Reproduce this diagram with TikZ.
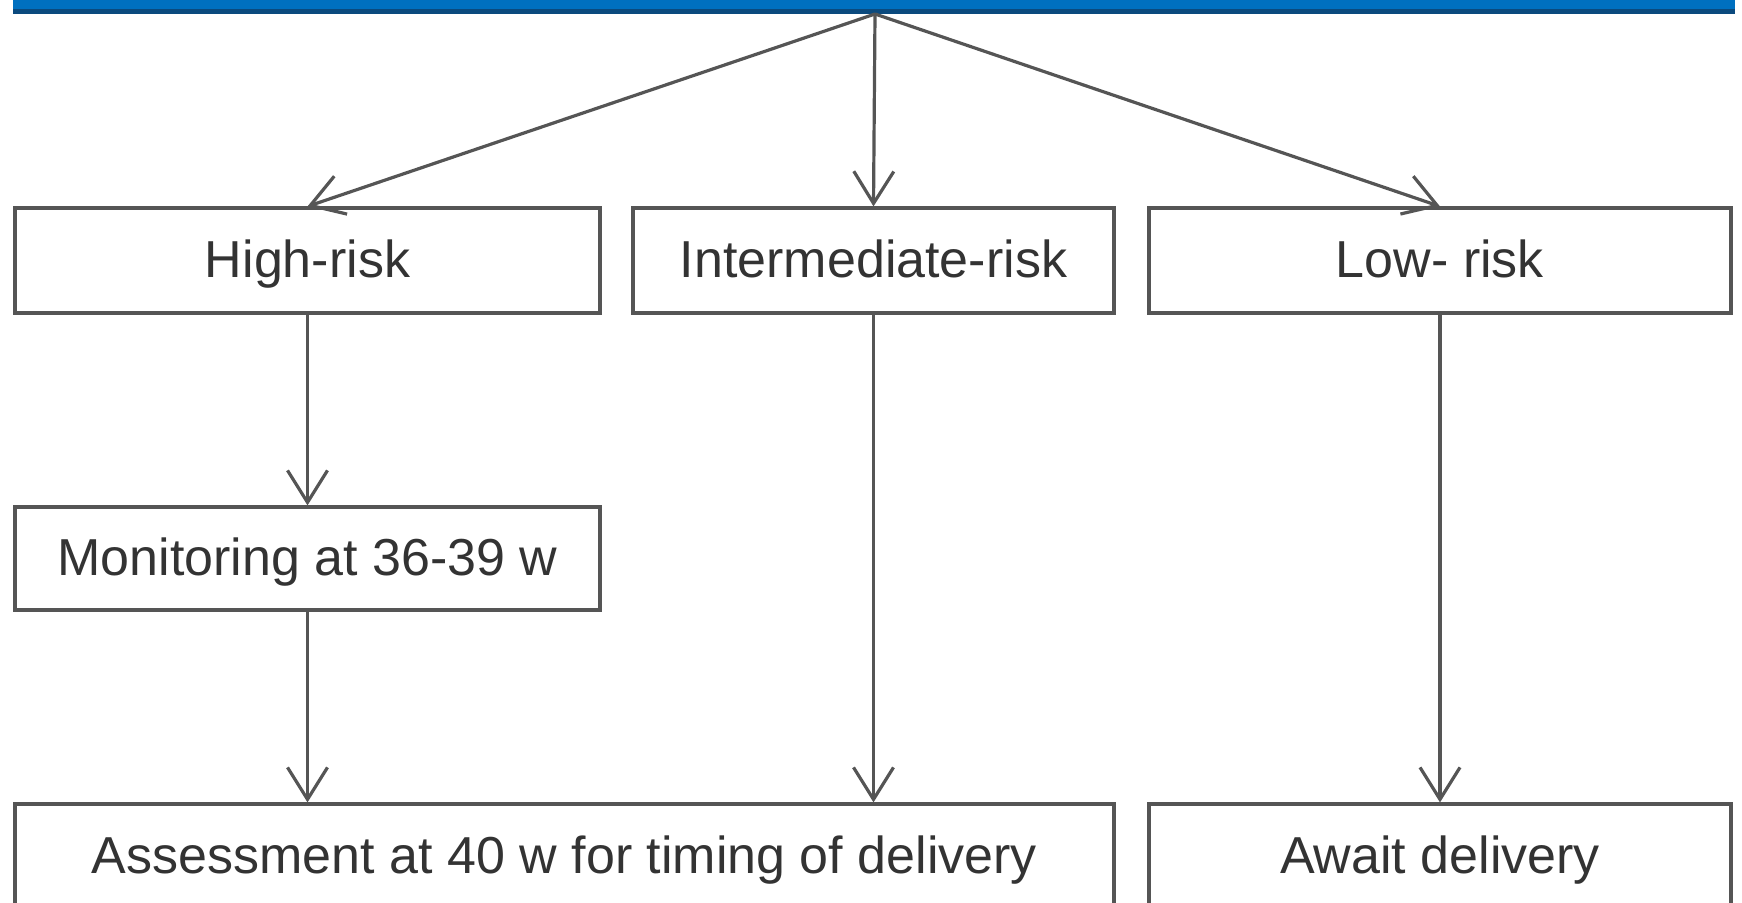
\documentclass[tikz,border=0pt]{standalone}
\usepackage{fontspec}
\setmainfont{Liberation Sans}
\usetikzlibrary{arrows.meta}
\definecolor{barblue}{HTML}{0070C0}
\definecolor{bardark}{HTML}{0B4A7E}
\definecolor{linegray}{HTML}{555555}
\definecolor{textgray}{HTML}{333333}
\tikzset{
  box/.style={draw=linegray, line width=1.6pt, fill=white, rectangle, inner sep=0pt,
    text=textgray, font=\fontsize{26}{30}\selectfont, minimum height=52.5pt,
    text height=19pt, text depth=2pt},
  conn/.style={draw=linegray, line width=1.6pt, -{Straight Barb[length=16pt,width=20pt,line width=1.6pt]}}
}
\begin{document}
\begin{tikzpicture}[x=0.5pt,y=-0.5pt]
\useasboundingbox (0,0) rectangle (1742,903);
\clip (0,0) rectangle (1742,903);
% top bar
\fill[barblue] (13,-20) rectangle (1735,14);
\fill[bardark] (13,9) rectangle (1735,14);
\coordinate (top) at (875,14);
% boxes
\node[box, minimum width=292.5pt] (high) at (307.5,260.5) {High-risk};
\node[box, minimum width=240.5pt] (inter) at (873.5,260.5) {Intermediate-risk};
\node[box, minimum width=291pt] (low) at (1440,260.5) {Low- risk};
\node[box, minimum width=292.5pt, minimum height=51.5pt] (mon) at (307.5,558.5) {Monitoring at 36-39 w};
\node[box, minimum width=549.5pt] (assess) at (564.5,856.5) {Assessment at 40 w for timing of delivery};
\node[box, minimum width=291pt] (await) at (1440,856.5) {Await delivery};
% connectors
\draw[conn] (top) -- (high.north);
\draw[conn] (top) -- (inter.north);
\draw[conn] (top) -- (low.north);
\draw[conn] (high.south) -- (mon.north);
\draw[conn] (mon.south) -- (mon.south |- assess.north);
\draw[conn] (inter.south) -- (inter.south |- assess.north);
\draw[conn] (low.south) -- (await.north);
\end{tikzpicture}
\end{document}
